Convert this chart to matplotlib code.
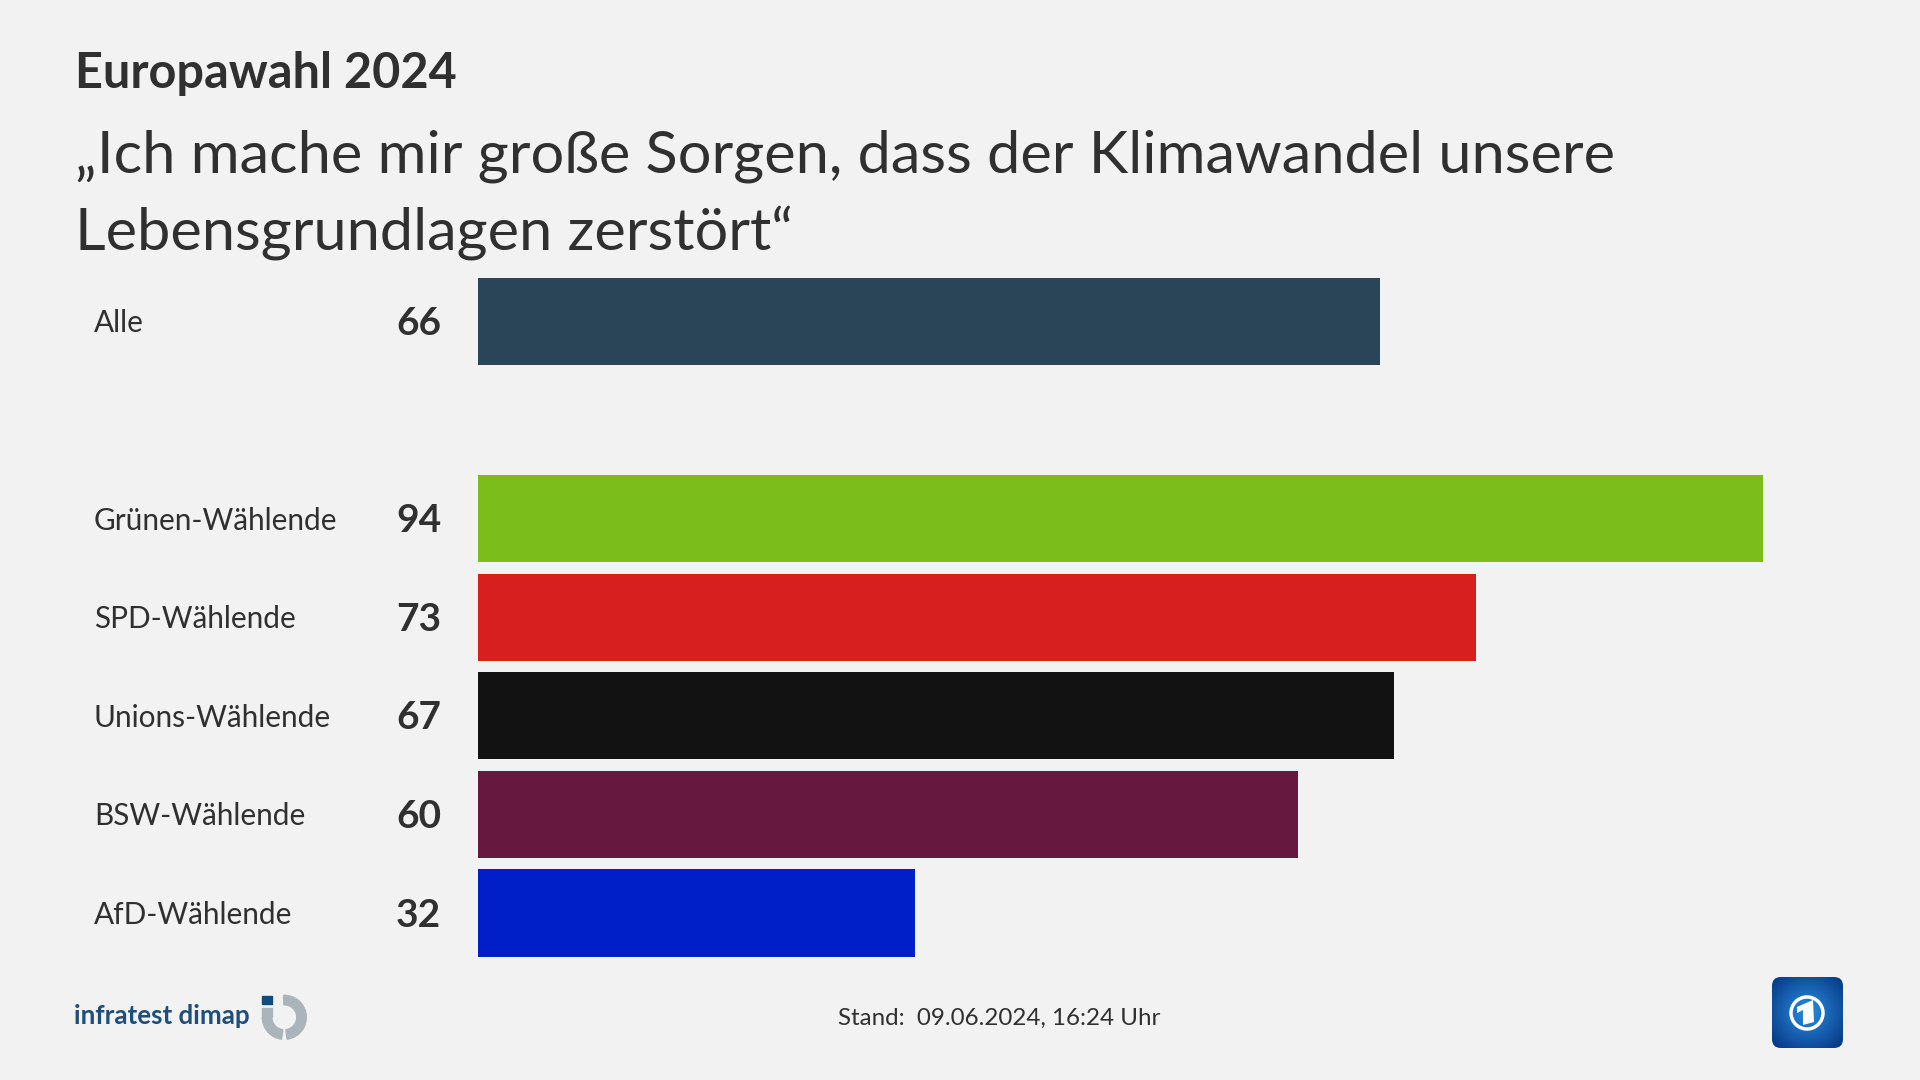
import matplotlib
matplotlib.use('Agg')
import matplotlib.pyplot as plt
import numpy as np
from matplotlib.patches import Wedge, FancyBboxPatch, Circle, Rectangle, Polygon

# data
groups = ['Alle', 'Grünen-Wählende', 'SPD-Wählende', 'Unions-Wählende', 'BSW-Wählende', 'AfD-Wählende']
values = [66, 94, 73, 67, 60, 32]
colors = ['#2b4558', '#7bbd1b', '#d81f1f', '#121212', '#66183f', '#001fc8']
# slot of each row, Alle is separated by an empty row
slots = [0, 2, 3, 4, 5, 6]

plt.rcParams['font.family'] = ['Lato', 'DejaVu Sans']
bg = '#f2f2f2'
txt = '#303030'

fig = plt.figure(figsize=(19.2, 10.8), dpi=100, facecolor=bg)

# bars, axis spans px 478..1920 horizontally
ax = fig.add_axes([478 / 1920, 1 - 965 / 1080, 1442 / 1920, (965 - 268) / 1080])
ax.set_facecolor('none')
ax.barh(slots, values, height=0.885, color=colors)
ax.set_xlim(0, 1442 / (1763 - 478) * 94)
ax.set_ylim(6.527, -0.5416)
ax.axis('off')

for name, val, s in zip(groups, values, slots):
    ax.annotate(name, (0, s), xycoords=('axes fraction', 'data'), xytext=(-384, -2),
                textcoords='offset pixels', fontsize=21.4, color=txt, va='center', ha='left')
    ax.annotate(str(val), (0, s), xycoords=('axes fraction', 'data'), xytext=(-37, -2),
                textcoords='offset pixels', fontsize=28, fontweight='bold', color=txt,
                va='center', ha='right')

# titles
fig.text(75 / 1920, 1 - 74 / 1080, 'Europawahl 2024', fontsize=35, fontweight='bold', color=txt, va='center')
fig.text(75 / 1920, 1 - 156 / 1080, '„Ich mache mir große Sorgen, dass der Klimawandel unsere',
         fontsize=42.8, color=txt, va='center')
fig.text(75 / 1920, 1 - 233 / 1080, 'Lebensgrundlagen zerstört“', fontsize=42.8, color=txt, va='center')

# footer
fig.text(74 / 1920, 1 - 1016 / 1080, 'infratest dimap', fontsize=18.6, fontweight='bold', color='#1f4e79', va='center')
fig.text(999 / 1920, 1 - 1018 / 1080, 'Stand:  09.06.2024, 16:24 Uhr', fontsize=17.4, color=txt, va='center', ha='center')

# logos in pixel coordinates
ov = fig.add_axes([0, 0, 1, 1], facecolor='none')
ov.set_xlim(0, 1920)
ov.set_ylim(1080, 0)
ov.axis('off')

# infratest dimap mark
grey = '#a9b4bb'
ov.add_patch(Wedge((284.3, 1017.3), 22, 268, 83, width=9.5, color=grey))
ov.add_patch(Wedge((284.3, 1017.3), 22, 97, 180, width=9.5, color=grey))
ov.add_patch(Rectangle((262.3, 1008), 9.5, 9.3, color=grey))
ov.add_patch(Rectangle((262.3, 996), 9.5, 8, color='#0f4c81'))

# tagesschau mark
box = FancyBboxPatch((1772, 977), 71, 71, boxstyle='round,pad=0,rounding_size=9', fc='none', ec='none')
ov.add_patch(box)
yy, xx = np.mgrid[977:1048, 1772:1843]
dist = np.hypot(xx - 1807, yy - 1011) / 50
grad = np.clip(1 - dist, 0, 1)[..., None]
img = grad * np.array([0.16, 0.56, 0.88]) + (1 - grad) * np.array([0.02, 0.20, 0.50])
im = ov.imshow(img, extent=(1772, 1843, 1048, 977), aspect='auto', zorder=2)
im.set_clip_path(box)
ov.set_xlim(0, 1920)
ov.set_ylim(1080, 0)
ov.add_patch(Circle((1807, 1013), 16, fc='none', ec='white', lw=2.5, zorder=3))
ov.add_patch(Polygon([(1797, 1007), (1813, 1000), (1814, 1022), (1803, 1025), (1803, 1010), (1797, 1013)],
                     fc='white', ec='none', zorder=3))

fig.savefig('out.png', dpi=100, facecolor=bg)
